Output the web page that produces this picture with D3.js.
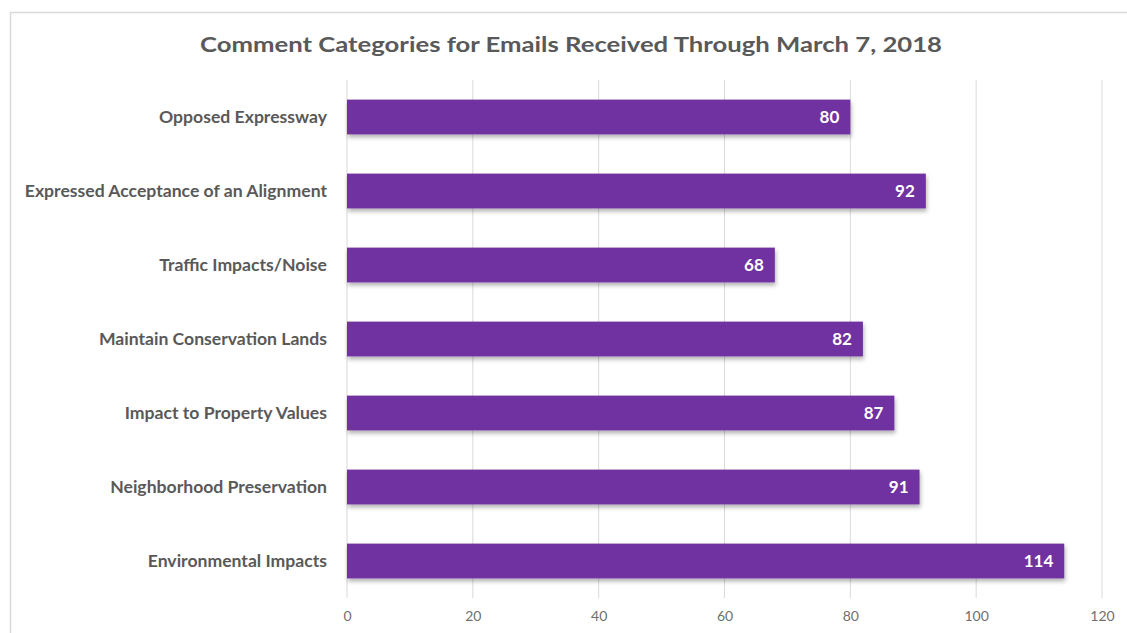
<!DOCTYPE html>
<html>
<head>
<meta charset="utf-8">
<script src="https://cdn.jsdelivr.net/npm/d3@7"></script>
<style>
  body { margin: 0; background: #fff; }
  text { font-family: Lato, "Open Sans", sans-serif; }
</style>
</head>
<body>
<div id="chart"></div>
<script>
// chart data, top to bottom
const categories = [
  "Opposed Expressway",
  "Expressed Acceptance of an Alignment",
  "Traffic Impacts/Noise",
  "Maintain Conservation Lands",
  "Impact to Property Values",
  "Neighborhood Preservation",
  "Environmental Impacts"
];
const counts = [80, 92, 68, 82, 87, 91, 114];
const xTicks = [0, 20, 40, 60, 80, 100, 120];
const title = "Comment Categories for Emails Received Through March 7, 2018";

const WIDTH = 1127, HEIGHT = 633;
const MARGIN = { left: 347, right: 25, top: 80, bottom: 35 };
const PLOT_W = 1102 - MARGIN.left;
const PLOT_H = 598 - MARGIN.top;
const BAR_COLOR = "#7030a0";

const data = categories.map((c, i) => ({ cat: c, value: counts[i] }));

let svg = d3.select("#chart").append("svg")
  .attr("width", WIDTH)
  .attr("height", HEIGHT);

// drop shadow like the office chart
let defs = svg.append("defs");
let f = defs.append("filter").attr("id", "shadow")
  .attr("x", "-5%").attr("y", "-20%").attr("width", "110%").attr("height", "160%");
f.append("feDropShadow")
  .attr("dx", 1).attr("dy", 3).attr("stdDeviation", 2)
  .attr("flood-color", "#000").attr("flood-opacity", 0.3);

// outer frame (only top and left visible in the crop)
svg.append("rect")
  .attr("x", 10.5).attr("y", 12.5)
  .attr("width", WIDTH + 20).attr("height", HEIGHT + 20)
  .attr("fill", "none").attr("stroke", "#d9d9d9").attr("stroke-width", 1.5);

svg.append("text")
  .attr("x", 571).attr("y", 52)
  .attr("text-anchor", "middle")
  .attr("font-size", 21).attr("font-weight", "bold")
  .attr("fill", "#595959")
  .attr("textLength", 742).attr("lengthAdjust", "spacingAndGlyphs")
  .text(title);

let g = svg.append("g")
  .attr("transform", "translate(" + MARGIN.left + "," + MARGIN.top + ")");

let xScale = d3.scaleLinear().domain([0, 120]).range([0, PLOT_W]);
let yScale = d3.scaleBand().domain(categories).range([0, PLOT_H]).paddingInner(0.53).paddingOuter(0.265);

// gridlines
g.selectAll(".grid")
  .data(xTicks)
  .enter().append("line")
  .attr("class", "grid")
  .attr("x1", d => xScale(d)).attr("x2", d => xScale(d))
  .attr("y1", 0).attr("y2", PLOT_H)
  .attr("stroke", "#d9d9d9").attr("stroke-width", 1);

// x axis labels
let xAxis = g.append("g")
  .attr("transform", "translate(0," + PLOT_H + ")")
  .call(d3.axisBottom(xScale).tickValues(xTicks).tickSize(0).tickPadding(13));
xAxis.select(".domain").remove();
xAxis.selectAll("text")
  .attr("font-family", "Lato, 'Open Sans', sans-serif")
  .attr("font-size", 14).attr("fill", "#6f6f6f");

// y axis labels
let yAxis = g.append("g")
  .call(d3.axisLeft(yScale).tickSize(0).tickPadding(20));
yAxis.select(".domain").remove();
yAxis.selectAll("text")
  .attr("font-family", "Lato, 'Open Sans', sans-serif")
  .attr("font-size", 17.6).attr("font-weight", "bold").attr("fill", "#595959");

// bars
g.selectAll(".bar")
  .data(data)
  .enter().append("rect")
  .attr("class", "bar")
  .attr("x", 0)
  .attr("y", d => yScale(d.cat))
  .attr("width", d => xScale(d.value))
  .attr("height", yScale.bandwidth())
  .attr("fill", BAR_COLOR)
  .attr("filter", "url(#shadow)");

// value labels
g.selectAll(".val")
  .data(data)
  .enter().append("text")
  .attr("class", "val")
  .attr("x", d => xScale(d.value) - 11)
  .attr("y", d => yScale(d.cat) + yScale.bandwidth() / 2)
  .attr("dy", "0.35em")
  .attr("text-anchor", "end")
  .attr("font-size", 17).attr("font-weight", "bold")
  .attr("fill", "#fff")
  .text(d => d.value);
</script>
</body>
</html>
